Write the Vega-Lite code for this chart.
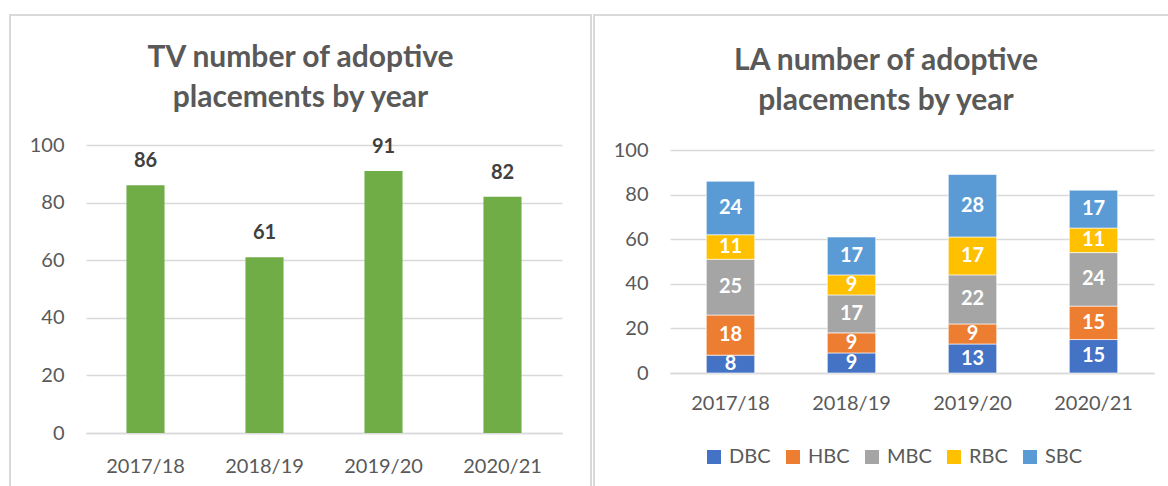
{
  "$schema": "https://vega.github.io/schema/vega-lite/v6.json",
  "background": "white",
  "padding": {"left": 9, "top": 14, "right": 0, "bottom": 0},
  "spacing": 1,
  "resolve": {"legend": {"color": "independent"}, "scale": {"color": "independent"}},
  "config": {
    "font": "Lato",
    "view": {"stroke": "#D9D9D9", "strokeWidth": 2},
    "axisX": {"domainColor": "#D9D9D9", "domainWidth": 1.5, "ticks": false, "labelAngle": 0, "labelFontSize": 20, "labelColor": "#595959", "title": null, "grid": false},
    "axisY": {"domain": false, "ticks": false, "labelFontSize": 20, "labelColor": "#595959", "title": null, "gridColor": "#D9D9D9", "gridWidth": 1.5, "labelPadding": 22},
    "title": {"fontSize": 30, "lineHeight": 40, "color": "#595959", "fontWeight": "bold", "anchor": "middle"}
  },
  "datasets": {
    "tv": [
      {"year": "2017/18", "n": 86},
      {"year": "2018/19", "n": 61},
      {"year": "2019/20", "n": 91},
      {"year": "2020/21", "n": 82}
    ],
    "la": [
      {"year": "2017/18", "agency": "DBC", "n": 8},
      {"year": "2017/18", "agency": "HBC", "n": 18},
      {"year": "2017/18", "agency": "MBC", "n": 25},
      {"year": "2017/18", "agency": "RBC", "n": 11},
      {"year": "2017/18", "agency": "SBC", "n": 24},
      {"year": "2018/19", "agency": "DBC", "n": 9},
      {"year": "2018/19", "agency": "HBC", "n": 9},
      {"year": "2018/19", "agency": "MBC", "n": 17},
      {"year": "2018/19", "agency": "RBC", "n": 9},
      {"year": "2018/19", "agency": "SBC", "n": 17},
      {"year": "2019/20", "agency": "DBC", "n": 13},
      {"year": "2019/20", "agency": "HBC", "n": 9},
      {"year": "2019/20", "agency": "MBC", "n": 22},
      {"year": "2019/20", "agency": "RBC", "n": 17},
      {"year": "2019/20", "agency": "SBC", "n": 28},
      {"year": "2020/21", "agency": "DBC", "n": 15},
      {"year": "2020/21", "agency": "HBC", "n": 15},
      {"year": "2020/21", "agency": "MBC", "n": 24},
      {"year": "2020/21", "agency": "RBC", "n": 11},
      {"year": "2020/21", "agency": "SBC", "n": 17}
    ]
  },
  "hconcat": [
    {
      "width": 581,
      "height": 474,
      "title": {"text": ["TV number of adoptive", "placements by year"], "offset": -98},
      "data": {"name": "tv"},
      "encoding": {
        "x": {"field": "year", "type": "nominal", "scale": {"range": [76, 552], "paddingInner": 0.68, "paddingOuter": 0.34}, "axis": {"labelPadding": 23, "offset": -56}},
        "y": {"field": "n", "type": "quantitative", "scale": {"domain": [0, 100], "range": [418, 130]}, "axis": {"values": [0, 20, 40, 60, 80, 100], "offset": -76}}
      },
      "layer": [
        {"mark": {"type": "bar", "color": "#70AD47"}},
        {"mark": {"type": "text", "baseline": "bottom", "dy": -14, "fontSize": 20, "fontWeight": "bold", "color": "#404040"}, "encoding": {"text": {"field": "n", "type": "quantitative"}}}
      ]
    },
    {
      "width": 580,
      "height": 474,
      "title": {"text": ["LA number of adoptive", "placements by year"], "offset": -101, "dx": 2},
      "data": {"name": "la"},
      "encoding": {
        "x": {"field": "year", "type": "nominal", "scale": {"range": [76, 560], "paddingInner": 0.6, "paddingOuter": 0.3}, "axis": {"labelPadding": 20, "offset": -116}},
        "y": {"field": "n", "type": "quantitative", "stack": "zero", "scale": {"domain": [0, 100], "range": [358, 135]}, "axis": {"values": [0, 20, 40, 60, 80, 100], "offset": -76}},
        "order": {"field": "agency", "type": "nominal", "sort": "ascending"}
      },
      "layer": [
        {
          "mark": {"type": "bar", "stroke": "#ffffff", "strokeWidth": 0.6},
          "encoding": {
            "color": {"field": "agency", "type": "nominal", "scale": {"domain": ["DBC", "HBC", "MBC", "RBC", "SBC"], "range": ["#4472C4", "#ED7D31", "#A5A5A5", "#FFC000", "#5B9BD5"]},
              "legend": {"orient": "none", "legendX": 110, "legendY": 432, "padding": 0, "direction": "horizontal", "title": null, "symbolType": "square", "symbolSize": 196, "symbolStrokeWidth": 0, "labelFontSize": 20, "labelColor": "#595959", "columnPadding": 12, "labelOffset": 5}}
          }
        },
        {
          "mark": {"type": "text", "color": "white", "fontSize": 20, "fontWeight": "bold"},
          "encoding": {
            "y": {"field": "n", "type": "quantitative", "stack": "zero", "bandPosition": 0.5},
            "detail": {"field": "agency", "type": "nominal"},
            "text": {"field": "n", "type": "quantitative"}
          }
        }
      ]
    }
  ]
}
